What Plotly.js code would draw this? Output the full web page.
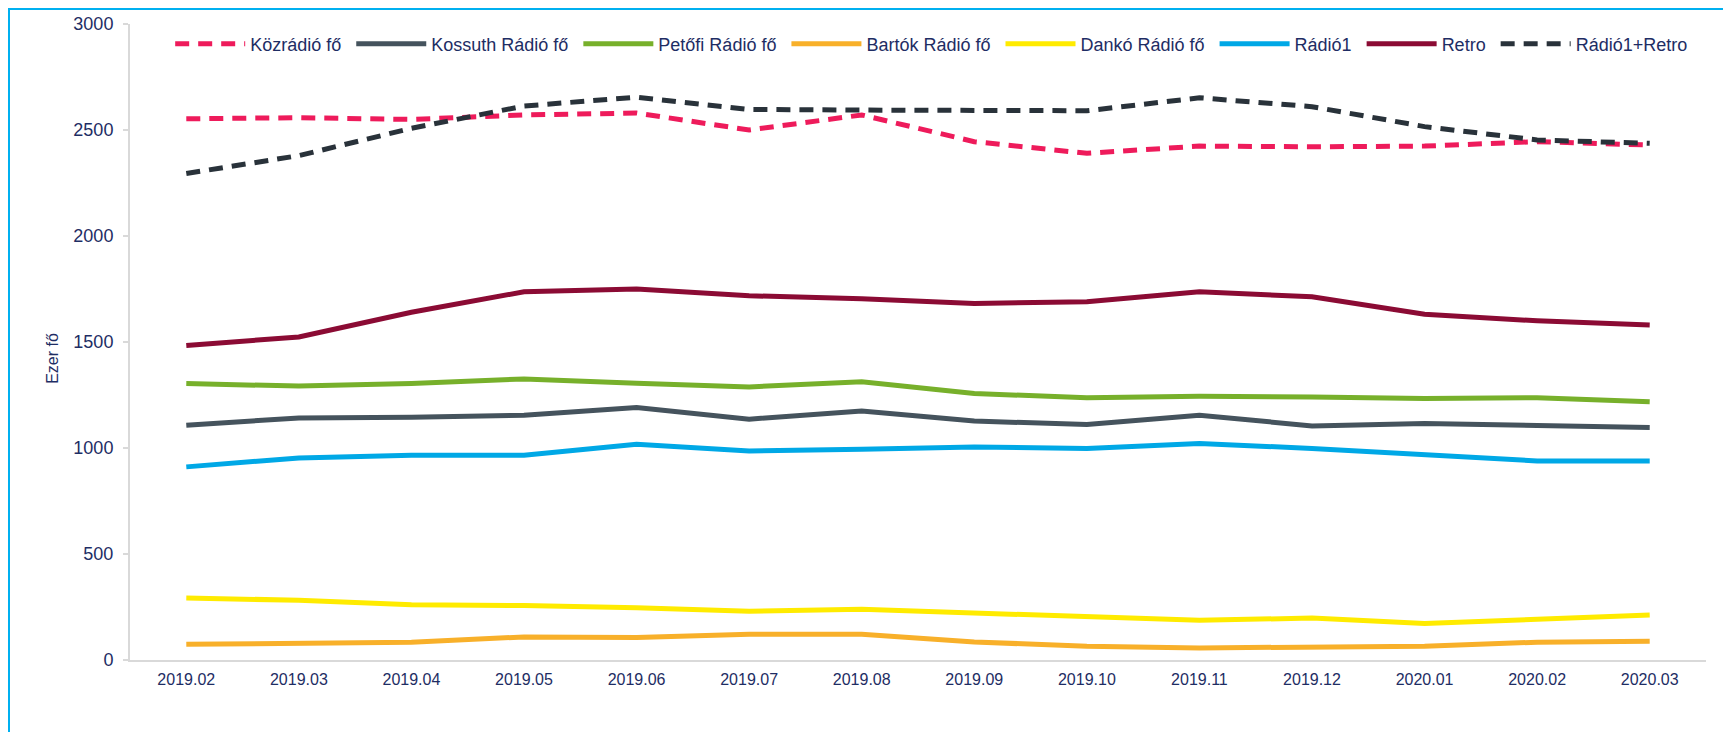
<!DOCTYPE html>
<html>
<head>
<meta charset="utf-8">
<script src="https://cdn.plot.ly/plotly-3.0.1.min.js"></script>
<style>
  html, body { margin: 0; padding: 0; background: #ffffff; }
  #wrap { position: relative; width: 1723px; height: 732px; overflow: hidden; }
  #chart { position: absolute; left: 0; top: 0; width: 1723px; height: 732px; }
  #frame { position: absolute; left: 8px; top: 8px; width: 1740px; height: 760px;
           border-top: 2px solid #00b0f0; border-left: 2px solid #00b0f0; pointer-events: none; }
</style>
</head>
<body>
<div id="wrap">
  <div id="chart"></div>
  <div id="frame"></div>
</div>
<script>
const months = ["2019.02","2019.03","2019.04","2019.05","2019.06","2019.07","2019.08",
                "2019.09","2019.10","2019.11","2019.12","2020.01","2020.02","2020.03"];
const kozradio  = [2553, 2558, 2550, 2571, 2580, 2500, 2571, 2445, 2390, 2424, 2421, 2424, 2445, 2429];
const kossuth   = [1107, 1142, 1145, 1155, 1191, 1136, 1175, 1127, 1111, 1155, 1104, 1116, 1106, 1097];
const petofi    = [1304, 1292, 1304, 1326, 1306, 1288, 1312, 1257, 1237, 1244, 1241, 1234, 1237, 1218];
const bartok    = [74, 79, 84, 109, 106, 121, 121, 85, 65, 57, 59, 65, 84, 88];
const danko     = [292, 282, 261, 257, 247, 230, 239, 222, 203, 187, 198, 172, 192, 212];
const radio1    = [911, 953, 966, 966, 1018, 986, 994, 1005, 998, 1021, 998, 966, 939, 939];
const retro     = [1484, 1524, 1640, 1737, 1750, 1718, 1704, 1682, 1690, 1737, 1713, 1631, 1600, 1580];
const r1retro   = [2295, 2379, 2508, 2613, 2655, 2597, 2594, 2591, 2591, 2652, 2610, 2516, 2453, 2437];

const seriesNames = ["Közrádió fő","Kossuth Rádió fő","Petőfi Rádió fő","Bartók Rádió fő",
                     "Dankó Rádió fő","Rádió1","Retro","Rádió1+Retro"];
const seriesData = [kozradio, kossuth, petofi, bartok, danko, radio1, retro, r1retro];
const seriesColors = ["#ee1b5b","#45535d","#77b02b","#f8b02a","#ffeb00","#00a8e6","#8b0b34","#29323a"];
const seriesDash = ["14px,9px","solid","solid","solid","solid","solid","solid","14px,9px"];

const textColor = "#1e2d64";
const fontFam = "'Liberation Sans', Arial, sans-serif";
const legendPad = "\u00a0";

const traces = seriesNames.map((n, i) => ({
  type: "scatter",
  mode: "lines",
  name: n + legendPad,
  x: months,
  y: seriesData[i],
  line: { color: seriesColors[i], width: 5, dash: seriesDash[i] },
  hoverinfo: "x+y+name"
}));

const layout = {
  width: 1723,
  height: 732,
  margin: { l: 130, r: 17, t: 24, b: 72 },
  paper_bgcolor: "#ffffff",
  plot_bgcolor: "#ffffff",
  font: { family: fontFam, color: textColor, size: 16 },
  showlegend: true,
  legend: {
    orientation: "h",
    x: 0.0255,
    xanchor: "left",
    y: 0.9685,
    yanchor: "middle",
    itemwidth: 70,
    font: { family: fontFam, size: 18, color: textColor },
    bgcolor: "rgba(0,0,0,0)",
    traceorder: "normal"
  },
  xaxis: {
    type: "category",
    range: [-0.5, 13.5],
    showgrid: false,
    zeroline: false,
    showline: true,
    linecolor: "#d9d9d9",
    linewidth: 2,
    ticks: "",
    ticklabelstandoff: 4,
    tickfont: { family: fontFam, size: 16, color: textColor }
  },
  yaxis: {
    range: [0, 3000],
    tickvals: [0, 500, 1000, 1500, 2000, 2500, 3000],
    showgrid: false,
    zeroline: false,
    showline: true,
    linecolor: "#d9d9d9",
    linewidth: 2,
    ticks: "outside",
    ticklen: 5,
    tickwidth: 2,
    tickcolor: "#d9d9d9",
    ticklabelstandoff: 6,
    tickfont: { family: fontFam, size: 18, color: textColor }
  },
  annotations: [{
    text: "Ezer fő",
    xref: "paper", yref: "paper",
    x: -0.0489, y: 0.475,
    xanchor: "center", yanchor: "middle",
    textangle: -90,
    showarrow: false,
    font: { family: fontFam, size: 16, color: textColor }
  }]
};

Plotly.newPlot("chart", traces, layout, { displayModeBar: false, responsive: false });
</script>
</body>
</html>
